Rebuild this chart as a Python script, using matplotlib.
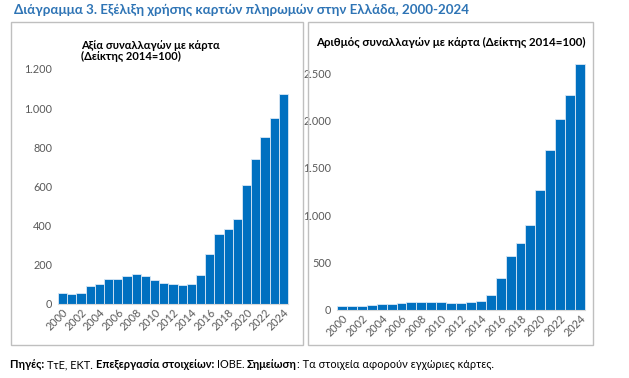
import matplotlib
matplotlib.use("Agg")
import matplotlib.pyplot as plt
from matplotlib.patches import Rectangle
from matplotlib.ticker import FuncFormatter

plt.rcParams['font.family'] = ['Lato', 'DejaVu Sans']

years = list(range(2000, 2025))
value_idx = [55, 51, 55, 92, 104, 126, 128, 145, 153, 145, 123, 109, 102, 99, 100,
             150, 257, 358, 385, 435, 609, 740, 854, 948, 1072]
count_idx = [46, 46, 42, 56, 63, 67, 70, 81, 88, 88, 81, 77, 77, 81, 100,
             155, 334, 567, 711, 894, 1264, 1690, 2014, 2275, 2595]

title = "Διάγραμμα 3. Εξέλιξη χρήσης καρτών πληρωμών στην Ελλάδα, 2000-2024"
left_title = "Αξία συναλλαγών με κάρτα\n(Δείκτης 2014=100)"
right_title = "Αριθμός συναλλαγών με κάρτα (Δείκτης 2014=100)"

bar_color = "#0070C0"
tick_color = "#595959"
W, H = 629, 378

fig = plt.figure(figsize=(W / 100, H / 100), dpi=100)

def px(x0, y0, x1, y1):
    # pixel box (top-left origin) -> figure fraction rect
    return [x0 / W, 1 - y1 / H, (x1 - x0) / W, (y1 - y0) / H]

# panel frames
for x0, x1 in [(11, 303), (307.5, 593)]:
    fig.patches.append(Rectangle((x0 / W, 1 - 345 / H), (x1 - x0) / W, (345 - 22) / H,
                                 transform=fig.transFigure, fill=False,
                                 edgecolor="#BFBFBF", lw=1.0))

thousands = FuncFormatter(lambda v, p: f"{int(v):,}".replace(",", "."))

def panel(rect, data, ymax, step):
    ax = fig.add_axes(rect)
    ax.bar(range(len(years)), data, width=1.0, color=bar_color,
           edgecolor="#D9E7F5", linewidth=0.6, clip_on=False)
    ax.set_xlim(-0.5, len(years) - 0.5)
    ax.set_ylim(0, ymax)
    ax.set_yticks(range(0, ymax + 1, step))
    ax.yaxis.set_major_formatter(thousands)
    ax.set_xticks(range(0, len(years), 2))
    ax.set_xticklabels([str(y) for y in years[::2]], rotation=45, ha="right",
                       rotation_mode="anchor")
    for s in ["top", "right", "left"]:
        ax.spines[s].set_visible(False)
    ax.spines["bottom"].set_color("#D9D9D9")
    ax.tick_params(axis="both", length=0, labelsize=7.8, colors=tick_color)
    ax.tick_params(axis="y", pad=4)
    ax.tick_params(axis="x", pad=2)
    return ax

# left: 0 at y=304, 1200 at y=69
axl = panel(px(58, 69, 288, 304), value_idx, 1200, 200)
# right: 0 at y=310, 2500 at y=73.3 -> ylim 2700
top_r = 310 - (310 - 73.3) * 2700 / 2500
axr = panel(px(337, top_r, 585, 310), count_idx, 2700, 500)
axr.set_yticks(range(0, 2501, 500))

fig.text(14 / W, 1 - 10 / H, title, color="#2E74B5", fontsize=9.6, fontweight="bold",
         va="center", ha="left")
fig.text(81 / W, 1 - 51 / H, left_title, fontsize=8, fontweight="bold",
         va="center", ha="left", linespacing=1.1)
fig.text(316 / W, 1 - 42 / H, right_title, fontsize=8.3, fontweight="bold",
         va="center", ha="left")

# footnote with mixed weights
parts = [("Πηγές: ", "bold"), ("ΤτΕ, ΕΚΤ. ", "normal"), ("Επεξεργασία στοιχείων: ", "bold"),
         ("ΙΟΒΕ. ", "normal"), ("Σημείωση", "bold"), (": Τα στοιχεία αφορούν εγχώριες κάρτες.", "normal")]
renderer = fig.canvas.get_renderer()
x = 10 / W
for txt, wt in parts:
    t = fig.text(x, 1 - 365 / H, txt, fontsize=7.9, fontweight=wt, va="center", ha="left")
    bb = t.get_window_extent(renderer=renderer)
    x += bb.width / fig.bbox.width

fig.savefig("out.png", dpi=100)
